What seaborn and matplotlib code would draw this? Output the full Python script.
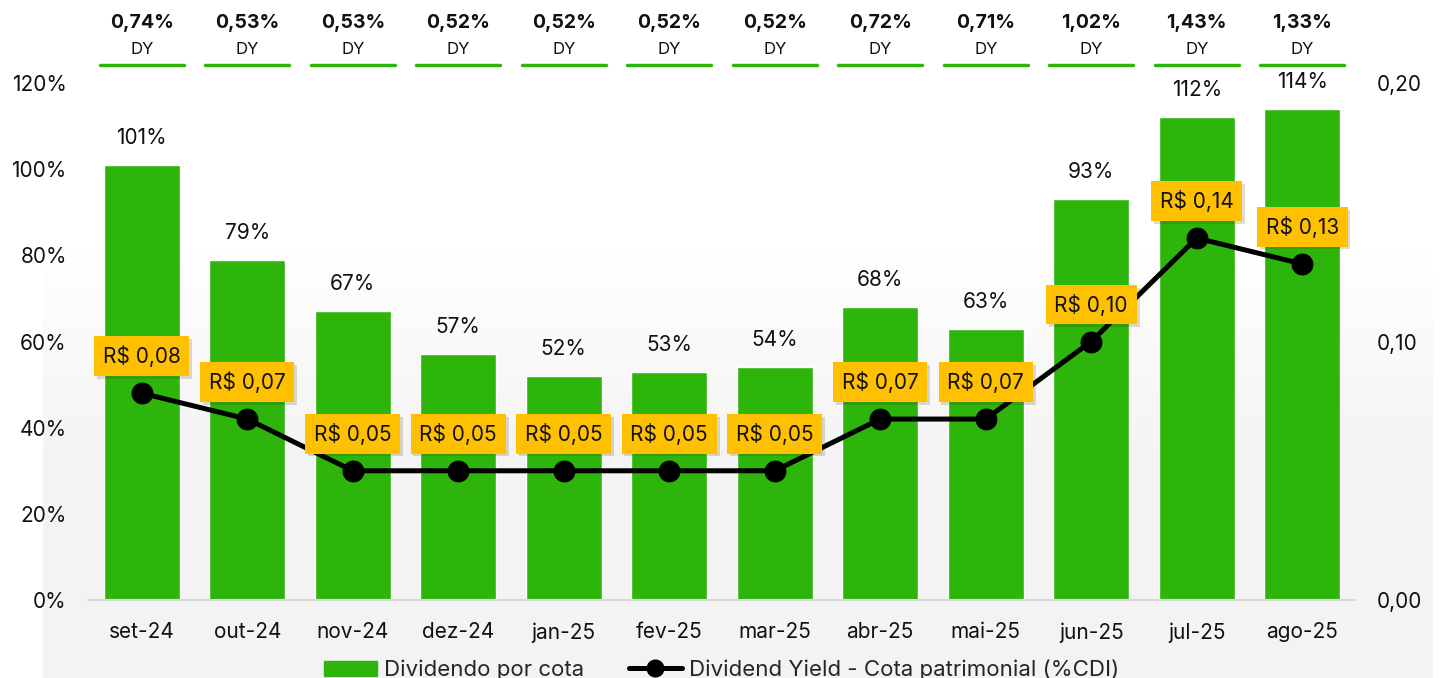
import matplotlib
matplotlib.use("Agg")
import matplotlib.pyplot as plt
import matplotlib.patheffects as pe
import matplotlib.transforms as mtransforms
from matplotlib.lines import Line2D
from matplotlib.patches import Patch
import numpy as np
import seaborn as sns

months = ["set-24", "out-24", "nov-24", "dez-24", "jan-25", "fev-25",
          "mar-25", "abr-25", "mai-25", "jun-25", "jul-25", "ago-25"]
pct_cdi = [101, 79, 67, 57, 52, 53, 54, 68, 63, 93, 112, 114]
dividend = [0.08, 0.07, 0.05, 0.05, 0.05, 0.05, 0.05, 0.07, 0.07, 0.10, 0.14, 0.13]
dy = ["0,74%", "0,53%", "0,53%", "0,52%", "0,52%", "0,52%",
      "0,52%", "0,72%", "0,71%", "1,02%", "1,43%", "1,33%"]

GREEN = "#2db50c"
ORANGE = "#ffc000"
FONT = ["Inter", "DejaVu Sans"]

sns.set_theme(style="white")
plt.rcParams["font.family"] = FONT

fig = plt.figure(figsize=(14.43, 6.78), dpi=100)

# subtle background gradient: white on top, light grey at the bottom
bg = fig.add_axes([0, 0, 1, 1], zorder=-5)
t = np.clip((np.linspace(0, 1, 256) - 0.3) / 0.35, 0, 1).reshape(-1, 1, 1)
top = np.array([1.0, 1.0, 1.0])
bottom = np.array([0.953, 0.953, 0.953])
img = top * (1 - t) + bottom * t
bg.imshow(img, extent=[0.03, 0.993, 0, 0.9], aspect="auto", origin="upper")
bg.set_xlim(0, 1)
bg.set_ylim(0, 1)
bg.axis("off")

ax = fig.add_axes([0.0617, 0.115, 0.8773, 0.7626])
ax.patch.set_alpha(0)
sns.barplot(x=months, y=pct_cdi, color=GREEN, saturation=1, width=0.72, ax=ax)
ax.set_xlim(-0.5, len(months) - 0.5)
ax.set_ylim(0, 120)
ax.set_yticks(range(0, 121, 20))
ax.set_yticklabels([f"{v}%" for v in range(0, 121, 20)])
ax.set_xlabel("")
ax.set_ylabel("")
for s in ["top", "right", "left"]:
    ax.spines[s].set_visible(False)
ax.spines["bottom"].set_color("#d9d9d9")
ax.spines["bottom"].set_linewidth(1.5)
ax.tick_params(axis="both", length=0, labelsize=15, colors="#111111")
ax.tick_params(axis="x", pad=16)
ax.tick_params(axis="y", pad=16)

for i, v in enumerate(pct_cdi):
    ax.annotate(f"{v}%", (i, v), xytext=(0, 27), textcoords="offset pixels",
                ha="center", va="center", fontsize=15, color="#111111")

# DY header
trans = mtransforms.blended_transform_factory(ax.transData, fig.transFigure)
for i, d in enumerate(dy):
    ax.text(i, 1 - 23 / 678, d, transform=trans, ha="center", va="center",
            fontsize=14, fontweight="bold", color="#111111")
    ax.text(i, 1 - 50 / 678, "DY", transform=trans, ha="center", va="center",
            fontsize=12, color="#111111")
    ax.add_line(Line2D([i - 0.4, i + 0.4], [1 - 65 / 678] * 2, transform=trans,
                       color=GREEN, lw=2.5, solid_capstyle="round", clip_on=False))

ax2 = ax.twinx()
ax2.patch.set_alpha(0)
sns.lineplot(x=np.arange(len(months)), y=dividend, ax=ax2, color="black",
             lw=3.6, marker="o", markersize=15, markeredgecolor="black")
ax2.set_ylim(0, 0.20)
ax2.set_yticks([0, 0.10, 0.20])
ax2.set_yticklabels([f"{v:.2f}".replace(".", ",") for v in [0, 0.10, 0.20]])
ax2.set_ylabel("")
for s in ax2.spines.values():
    s.set_visible(False)
ax2.tick_params(axis="y", length=0, labelsize=15, colors="#111111", pad=16)

for i, v in enumerate(dividend):
    label = "R$ " + f"{v:.2f}".replace(".", ",")
    ann = ax2.annotate(label, (i, v), xytext=(0, 37), textcoords="offset pixels",
                       ha="center", va="center", fontsize=15, color="#111111",
                       bbox=dict(boxstyle="square,pad=0.42", fc=ORANGE, ec="none"))
    ann.get_bbox_patch().set_path_effects(
        [pe.SimplePatchShadow(offset=(2, -2), alpha=0.18), pe.Normal()])

handles = [Patch(color=GREEN, label="Dividendo por cota"),
           Line2D([0], [0], color="black", lw=3.6, marker="o", markersize=12,
                  label="Dividend Yield - Cota patrimonial (%CDI)")]
fig.legend(handles=handles, loc="center", bbox_to_anchor=(0.5, 0.012),
           ncol=2, frameon=False, fontsize=16, handlelength=2.4,
           handletextpad=0.3, columnspacing=2.0)

fig.savefig("out.png", dpi=100)
